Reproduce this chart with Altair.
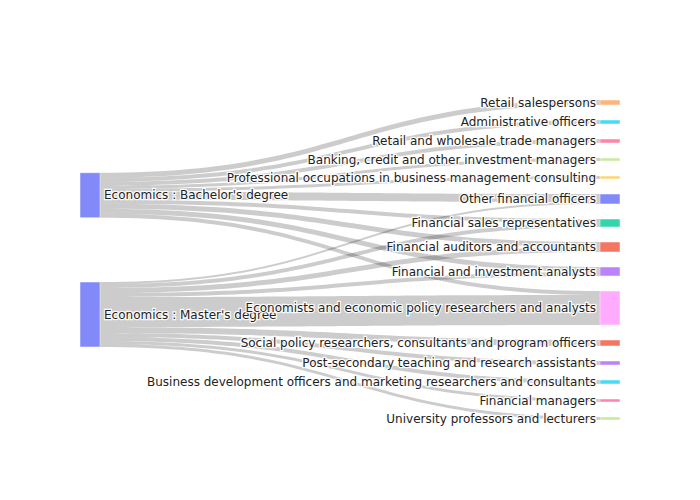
import altair as alt
import pandas as pd
import numpy as np

# ---- data ----
source_names = ["Economics : Bachelor's degree", "Economics : Master's degree"]
target_names = [
    "Retail salespersons",
    "Administrative officers",
    "Retail and wholesale trade managers",
    "Banking, credit and other investment managers",
    "Professional occupations in business management consulting",
    "Other financial officers",
    "Financial sales representatives",
    "Financial auditors and accountants",
    "Financial and investment analysts",
    "Economists and economic policy researchers and analysts",
    "Social policy researchers, consultants and program officers",
    "Post-secondary teaching and research assistants",
    "Business development officers and marketing researchers and consultants",
    "Financial managers",
    "University professors and lecturers",
]
link_source = [0, 0, 0, 0, 0, 0, 0, 0, 0, 0,
               1, 1, 1, 1, 1, 1, 1, 1, 1, 1]
link_target = [0, 1, 2, 3, 4, 5, 6, 7, 8, 9,
               5, 6, 7, 8, 9, 10, 11, 12, 13, 14]
link_value = [5, 4, 4, 3, 3, 8, 4, 5, 5, 4,
              2, 4, 5, 4, 30, 6, 4, 4, 3, 3]

# ---- styles ----
source_colors = ["#636efa", "#636efa"]
target_colors = ["#FFA15A", "#19d3f3", "#FF6692", "#B6E880", "#FECB52",
                 "#636efa", "#00cc96", "#EF553B", "#ab63fa", "#FF97FF",
                 "#EF553B", "#ab63fa", "#19d3f3", "#FF6692", "#B6E880"]

W, H = 540, 320
NODE_W = 20
PAD = 15

# ---- sankey layout (computed from the values) ----
src_tot = [sum(v for s, v in zip(link_source, link_value) if s == i) for i in range(len(source_names))]
tgt_tot = [sum(v for t, v in zip(link_target, link_value) if t == j) for j in range(len(target_names))]
ky = (H - (len(target_names) - 1) * PAD) / sum(tgt_tot)

tgt_top = []
y = 0.0
for v in tgt_tot:
    tgt_top.append(y)
    y += v * ky + PAD

# target-side link offsets (incoming sorted by source order)
order = sorted(range(len(link_value)), key=lambda k: (link_target[k], link_source[k]))
t_off = {}
cum = {j: 0.0 for j in range(len(target_names))}
for k in order:
    j = link_target[k]
    t_off[k] = tgt_top[j] + cum[j]
    cum[j] += link_value[k] * ky

# source positions: weighted mean of target-side link centres
src_top = []
for i in range(len(source_names)):
    ks = [k for k in range(len(link_value)) if link_source[k] == i]
    wsum = sum(link_value[k] for k in ks)
    c = sum(link_value[k] * (t_off[k] + link_value[k] * ky / 2) for k in ks) / wsum
    src_top.append(c - src_tot[i] * ky / 2)

order_s = sorted(range(len(link_value)), key=lambda k: (link_source[k], link_target[k]))
s_off = {}
cum = {i: 0.0 for i in range(len(source_names))}
for k in order_s:
    i = link_source[k]
    s_off[k] = src_top[i] + cum[i]
    cum[i] += link_value[k] * ky

x0, x1 = NODE_W, W - NODE_W
xm = (x0 + x1) / 2
ts = np.linspace(0, 1, 60)
rows = []
for k in range(len(link_value)):
    y0, y1, w = s_off[k], t_off[k], link_value[k] * ky
    for t in ts:
        a, b, c_, d = (1 - t) ** 3, 3 * (1 - t) ** 2 * t, 3 * (1 - t) * t ** 2, t ** 3
        xx = a * x0 + (b + c_) * xm + d * x1
        yy = (a + b) * y0 + (c_ + d) * y1
        rows.append({"link": k, "x": xx, "y": yy, "y2": yy + w})
links_df = pd.DataFrame(rows)

nodes = []
for i, n in enumerate(source_names):
    nodes.append({"name": n, "x": 0, "x2": NODE_W, "y": src_top[i],
                  "y2": src_top[i] + src_tot[i] * ky, "color": source_colors[i]})
for j, n in enumerate(target_names):
    nodes.append({"name": n, "x": W - NODE_W, "x2": W, "y": tgt_top[j],
                  "y2": tgt_top[j] + tgt_tot[j] * ky, "color": target_colors[j]})
nodes_df = pd.DataFrame(nodes)
nodes_df["yc"] = (nodes_df["y"] + nodes_df["y2"]) / 2
left_df = nodes_df.iloc[: len(source_names)].copy()
left_df["tx"] = NODE_W + 4
right_df = nodes_df.iloc[len(source_names):].copy()
right_df["tx"] = W - NODE_W - 4

xs = alt.Scale(domain=[0, W], nice=False, zero=False)
ys = alt.Scale(domain=[0, H], nice=False, zero=False, reverse=True)

links = alt.Chart(links_df).mark_area(color="black", opacity=0.2, interpolate="linear").encode(
    x=alt.X("x:Q", scale=xs, axis=None),
    y=alt.Y("y:Q", scale=ys, axis=None),
    y2="y2:Q",
    detail="link:N",
)

node_marks = alt.Chart(nodes_df).mark_rect(opacity=0.8, stroke="white", strokeWidth=0.5).encode(
    x=alt.X("x:Q", scale=xs, axis=None),
    x2="x2:Q",
    y=alt.Y("y:Q", scale=ys, axis=None),
    y2="y2:Q",
    color=alt.Color("color:N", scale=None),
)

def labels(df, align):
    base = alt.Chart(df).encode(
        x=alt.X("tx:Q", scale=xs, axis=None),
        y=alt.Y("yc:Q", scale=ys, axis=None),
        text="name:N",
    )
    halo = base.mark_text(align=align, baseline="middle", font="DejaVu Sans", fontSize=12,
                          stroke="white", strokeWidth=2.5, strokeOpacity=0.9, fill="white")
    txt = base.mark_text(align=align, baseline="middle", font="DejaVu Sans", fontSize=12,
                         color="#222")
    return halo + txt

chart = alt.layer(
    links, node_marks, labels(left_df, "left"), labels(right_df, "right")
).properties(
    width=W, height=H,
    padding={"left": 72, "top": 92, "right": 72, "bottom": 72},
    autosize=alt.AutoSizeParams(type="none"),
    background="white",
).configure_view(stroke=None)

chart.save("out.html", embed_options={"renderer": "svg", "actions": False})
